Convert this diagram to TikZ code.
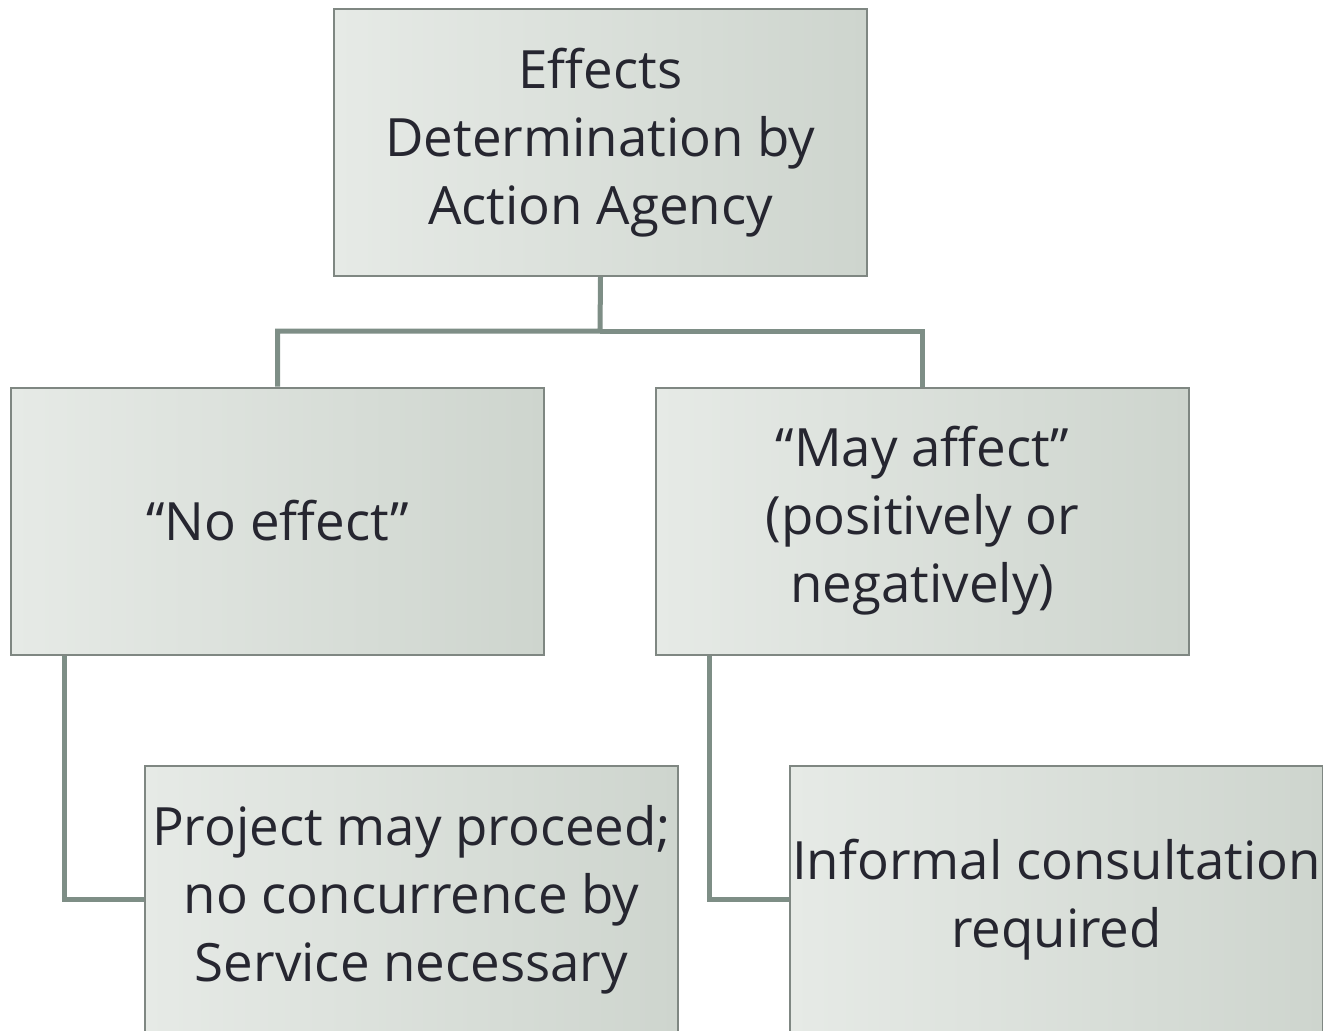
\documentclass[tikz,border=0pt]{standalone}
\usepackage{fontspec}
\setmainfont{Open Sans}
\definecolor{boxlight}{HTML}{E6EAE6}
\definecolor{boxdark}{HTML}{CED5CE}
\definecolor{boxline}{HTML}{7F8782}
\definecolor{connline}{HTML}{7E8E86}
\definecolor{txt}{HTML}{262630}
\begin{document}
\begin{tikzpicture}[x=0.5pt,y=-0.5pt,
  box/.style={draw=boxline, line width=1pt, left color=boxlight, right color=boxdark,
    minimum width=266.5pt, minimum height=133.5pt, inner sep=0pt,
    align=center, text=txt, font=\fontsize{26.4}{34}\selectfont},
  conn/.style={draw=connline, line width=2.5pt}]
\useasboundingbox (0,0) rectangle (1323,1030);
\clip (0,0) rectangle (1323,1030);
\node[box] (top) at (600.5,142.5) {Effects\\Determination by\\Action Agency};
\node[box] (left) at (277.5,521) {“No effect”};
\node[box] (right) at (922.5,521) {“May affect”\\(positively or\\negatively)};
\node[box] (lchild) at (411.5,899.5) {Project may proceed;\\no concurrence by\\Service necessary};
\node[box] (rchild) at (1056.5,899.5) {Informal consultation\\required};
\coordinate (bus) at (600,331);
\draw[conn] (top.south) -- (bus) -| (left.north);
\draw[conn] (bus) -| (right.north);
\draw[conn] ([xshift=27pt]left.south west) |- (lchild.west);
\draw[conn] ([xshift=27pt]right.south west) |- (rchild.west);
\end{tikzpicture}
\end{document}
